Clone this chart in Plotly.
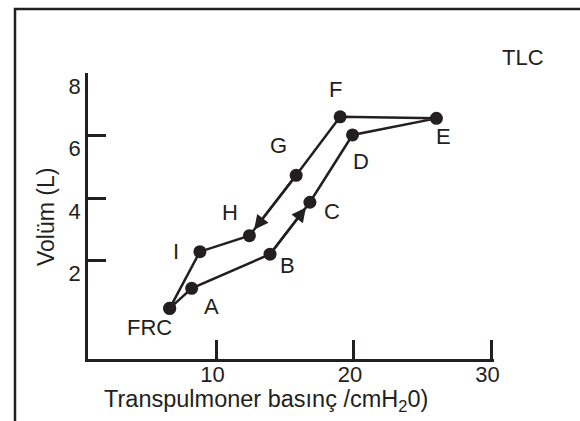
import plotly.graph_objects as go

# ---- data ----
point_labels = ["FRC", "A", "B", "C", "D", "E", "F", "G", "H", "I"]
pressure = [6.6, 8.2, 13.9, 16.8, 19.9, 26.0, 19.0, 15.8, 12.4, 8.8]   # cmH2O
volume = [0.48, 1.12, 2.21, 3.87, 6.02, 6.55, 6.60, 4.73, 2.80, 2.29]  # L
x_ticks = [10, 20, 30]
y_ticks = [2, 4, 6, 8]
arrow_segments = [("B", "C"), ("G", "H")]  # direction arrows along the loop

# ---- style ----
INK = "#231f20"
FONT = "Liberation Sans, Arial, Helvetica, sans-serif"
FS = 22
TITLE_FS = 23.5
label_offsets = {  # pixel offsets of point labels (dx right, dy up)
    "FRC": (-20, -19), "A": (20, -18), "B": (17, -11), "C": (22, -9),
    "D": (8, -27), "E": (7, -18), "F": (-5, 27), "G": (-18, 30),
    "H": (-19, 23), "I": (-24, 0),
}
ARROW_FRAC = 0.9

W, H = 580, 421
ML, MR, MT, MB = 88, 86, 73, 62
pw, ph = W - ML - MR, H - MT - MB


def px_to_paper_x(px):
    return (px - ML) / pw


def px_to_paper_y(py):
    return (H - MB - py) / ph


loop_x = pressure + [pressure[0]]
loop_y = volume + [volume[0]]

fig = go.Figure()
fig.add_trace(go.Scatter(
    x=loop_x, y=loop_y, mode="lines+markers",
    line=dict(color=INK, width=2.5),
    marker=dict(color=INK, size=13),
    hoverinfo="skip", showlegend=False,
))

annotations = []

# direction arrowheads along two segments of the loop
idx = {n: i for i, n in enumerate(point_labels)}
for a, b in arrow_segments:
    x0, y0 = pressure[idx[a]], volume[idx[a]]
    x1, y1 = pressure[idx[b]], volume[idx[b]]
    tx = x0 + ARROW_FRAC * (x1 - x0)
    ty = y0 + ARROW_FRAC * (y1 - y0)
    annotations.append(dict(
        x=tx, y=ty, ax=x0, ay=y0, xref="x", yref="y", axref="x", ayref="y",
        text="", showarrow=True, arrowhead=2, arrowsize=1.15, arrowwidth=2.5,
        arrowcolor=INK,
    ))

for name, xv, yv in zip(point_labels, pressure, volume):
    dx, dy = label_offsets[name]
    annotations.append(dict(
        x=xv, y=yv, xref="x", yref="y", text=name, showarrow=False,
        xanchor="center", yanchor="middle",
        xshift=dx, yshift=dy, font=dict(family=FONT, size=FS, color=INK),
    ))

annotations.append(dict(
    x=px_to_paper_x(523), y=px_to_paper_y(58), xref="paper", yref="paper",
    xanchor="center", yanchor="middle",
    text="TLC", showarrow=False, font=dict(family=FONT, size=FS, color=INK),
))
annotations.append(dict(
    x=px_to_paper_x(265.5), y=px_to_paper_y(400), xref="paper", yref="paper",
    xanchor="center", yanchor="middle",
    text="Transpulmoner basınç /cmH<sub>2</sub>0)", showarrow=False,
    font=dict(family=FONT, size=TITLE_FS, color=INK),
))
annotations.append(dict(
    x=px_to_paper_x(46), y=px_to_paper_y(217), xref="paper", yref="paper",
    xanchor="center", yanchor="middle",
    text="Volüm (L)", textangle=-90, showarrow=False,
    font=dict(family=FONT, size=23, color=INK),
))

fig.update_layout(
    width=W, height=H,
    margin=dict(l=ML, r=MR, t=MT, b=MB, pad=0),
    paper_bgcolor="white", plot_bgcolor="white",
    font=dict(family=FONT, size=FS, color=INK),
    annotations=annotations,
    shapes=[dict(
        type="rect", xref="paper", yref="paper",
        x0=px_to_paper_x(15), x1=px_to_paper_x(600),
        y0=px_to_paper_y(440), y1=px_to_paper_y(9),
        line=dict(color=INK, width=2.5), fillcolor="rgba(0,0,0,0)",
        layer="above",
    )],
    xaxis=dict(
        range=[0.66, 30.19], showgrid=False, zeroline=False,
        showline=True, linecolor=INK, linewidth=2.5,
        tickmode="array", tickvals=x_ticks, ticktext=[str(v) for v in x_ticks],
        ticks="inside", ticklen=19, tickwidth=2.5, tickcolor=INK,
        tickfont=dict(family=FONT, size=FS, color=INK),
        ticklabelshift=-4, ticklabelstandoff=-6,
    ),
    yaxis=dict(
        range=[-1.14, 8.0], showgrid=False, zeroline=False,
        showline=True, linecolor=INK, linewidth=2.5,
        tickmode="array", tickvals=y_ticks, ticktext=[str(v) for v in y_ticks],
        ticks="inside", ticklen=18, tickwidth=2.5, tickcolor=INK,
        tickfont=dict(family=FONT, size=FS, color=INK),
        ticklabelshift=13,
    ),
)

fig.write_html("out.html")
